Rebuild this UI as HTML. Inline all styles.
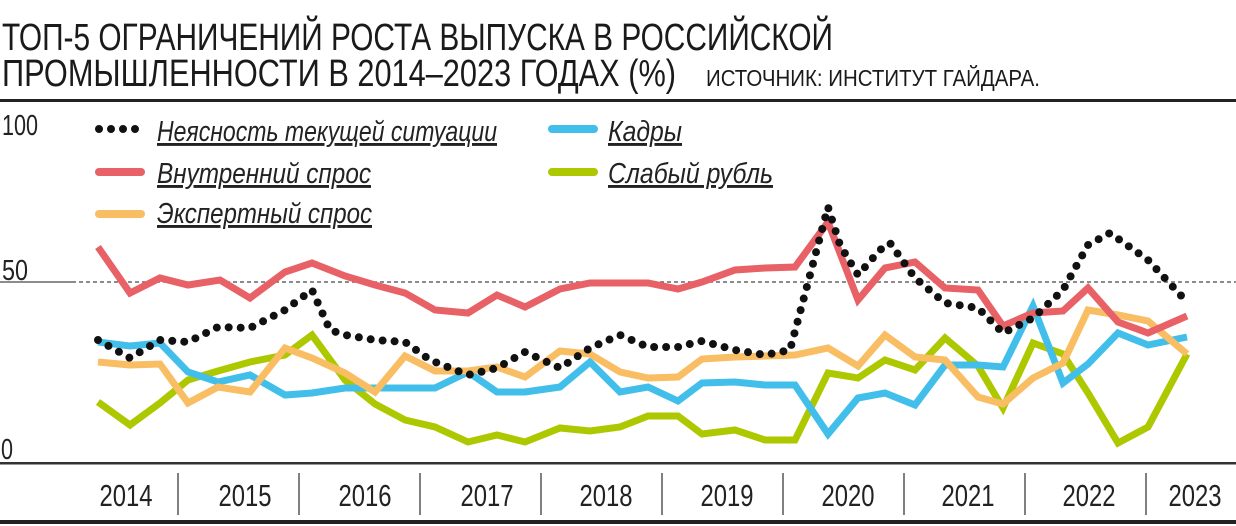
<!DOCTYPE html>
<html><head><meta charset="utf-8"><style>
html,body{margin:0;padding:0;background:#fff;}
svg{display:block;font-family:"Liberation Sans",sans-serif;}
</style></head><body>
<svg width="1236" height="526" viewBox="0 0 1236 526" xmlns="http://www.w3.org/2000/svg">
<text x="2" y="50" font-size="38" fill="#1a1a1a" textLength="831" lengthAdjust="spacingAndGlyphs">ТОП-5 ОГРАНИЧЕНИЙ РОСТА ВЫПУСКА В РОССИЙСКОЙ</text>
<text x="2" y="86" font-size="38" fill="#1a1a1a" textLength="674" lengthAdjust="spacingAndGlyphs">ПРОМЫШЛЕННОСТИ В 2014–2023 ГОДАХ (%)</text>
<text x="706" y="86" font-size="23" fill="#1a1a1a" textLength="334" lengthAdjust="spacingAndGlyphs">ИСТОЧНИК: ИНСТИТУТ ГАЙДАРА.</text>
<rect x="0" y="99" width="1236" height="3" fill="#222"/>
<text x="2" y="135" font-size="29" fill="#222" textLength="36" lengthAdjust="spacingAndGlyphs">100</text>
<text x="2" y="280" font-size="29" fill="#222" textLength="26" lengthAdjust="spacingAndGlyphs">50</text>
<text x="1" y="459" font-size="29" fill="#222" textLength="12" lengthAdjust="spacingAndGlyphs">0</text>
<line x1="0" y1="282" x2="72" y2="282" stroke="#666" stroke-width="1.5"/>
<line x1="72" y1="282" x2="1236" y2="282" stroke="#666" stroke-width="1.5" stroke-dasharray="4,3"/>
<rect x="0" y="462" width="1236" height="2.5" fill="#333"/>
<rect x="0" y="520" width="1236" height="4" fill="#222"/>
<g stroke="#555" stroke-width="1.5">
<line x1="178" y1="473" x2="178" y2="515"/><line x1="299" y1="473" x2="299" y2="515"/><line x1="420" y1="473" x2="420" y2="515"/><line x1="541" y1="473" x2="541" y2="515"/><line x1="662" y1="473" x2="662" y2="515"/><line x1="783" y1="473" x2="783" y2="515"/><line x1="904" y1="473" x2="904" y2="515"/><line x1="1025" y1="473" x2="1025" y2="515"/><line x1="1146" y1="473" x2="1146" y2="515"/>
</g>
<g font-size="31" fill="#222" text-anchor="middle">
<text x="126" y="506" textLength="53" lengthAdjust="spacingAndGlyphs">2014</text>
<text x="245" y="506" textLength="53" lengthAdjust="spacingAndGlyphs">2015</text>
<text x="365" y="506" textLength="53" lengthAdjust="spacingAndGlyphs">2016</text>
<text x="487" y="506" textLength="53" lengthAdjust="spacingAndGlyphs">2017</text>
<text x="606" y="506" textLength="53" lengthAdjust="spacingAndGlyphs">2018</text>
<text x="727" y="506" textLength="53" lengthAdjust="spacingAndGlyphs">2019</text>
<text x="848" y="506" textLength="53" lengthAdjust="spacingAndGlyphs">2020</text>
<text x="968" y="506" textLength="53" lengthAdjust="spacingAndGlyphs">2021</text>
<text x="1089" y="506" textLength="53" lengthAdjust="spacingAndGlyphs">2022</text>
<text x="1195" y="506" textLength="53" lengthAdjust="spacingAndGlyphs">2023</text>
</g>
<g stroke-linecap="round" stroke-width="8" fill="none">
<line x1="99" y1="129" x2="141" y2="129" stroke="#111" stroke-dasharray="0,12"/>
<line x1="99" y1="172" x2="141" y2="172" stroke="#e86166"/>
<line x1="99" y1="214" x2="141" y2="214" stroke="#f9bd63"/>
<line x1="552" y1="129" x2="594" y2="129" stroke="#41bfea"/>
<line x1="552" y1="172" x2="594" y2="172" stroke="#aec800"/>
</g>
<g font-size="29" font-style="italic" fill="#222" text-decoration="underline">
<text x="157" y="141" textLength="340" lengthAdjust="spacingAndGlyphs">Неясность текущей ситуации</text>
<text x="157" y="183" textLength="214" lengthAdjust="spacingAndGlyphs">Внутренний спрос</text>
<text x="157" y="223" textLength="215" lengthAdjust="spacingAndGlyphs">Экспертный спрос</text>
<text x="608" y="141" textLength="74" lengthAdjust="spacingAndGlyphs">Кадры</text>
<text x="608" y="183" textLength="165" lengthAdjust="spacingAndGlyphs">Слабый рубль</text>
</g>
<g fill="none" stroke-width="7" stroke-linejoin="miter" stroke-linecap="butt">
<polyline stroke="#aec800" points="98,402 130,425 160,403 188,380 218,371 250,362 285,355 312,335 345,380 375,404 405,420 435,427 468,442 497,435 525,442 560,428 590,431 620,427 648,416 678,416 702,434 735,430 765,440 795,440 828,373 858,378 885,360 915,370 945,338 978,366 1003,408 1033,343 1063,354 1088,393 1118,443 1148,427 1187,354"/>
<polyline stroke="#41bfea" points="98,342 130,346 160,343 188,372 218,382 250,375 285,395 312,393 345,388 375,388 405,388 435,388 468,372 497,392 525,392 560,387 590,362 620,392 648,387 678,401 702,383 735,382 765,385 795,385 828,434 858,398 885,393 915,405 945,365 978,365 1003,367 1033,306 1063,383 1088,364 1118,333 1148,345 1187,337"/>
<polyline stroke="#f9bd63" points="98,362 130,365 160,364 188,403 218,387 250,392 285,348 312,358 345,373 375,392 405,356 435,371 468,371 497,367 525,377 560,351 590,354 620,372 648,378 678,377 702,359 735,357 765,356 795,355 828,348 858,366 885,335 915,357 945,360 978,397 1003,404 1033,378 1063,363 1088,310 1118,315 1148,321 1187,354"/>
<polyline stroke="#e86166" points="98,247 130,293 160,278 188,285 220,280 250,298 285,272 312,263 345,276 375,285 405,293 435,310 468,313 497,295 525,307 560,289 590,283 620,283 648,283 678,289 702,282 735,270 765,268 795,267 828,222 858,300 885,268 915,262 945,288 978,290 1003,326 1033,313 1063,311 1088,288 1118,322 1148,333 1187,316"/>
<polyline stroke="#111" stroke-width="8" stroke-linecap="round" stroke-dasharray="0,12" points="98,340 130,358 160,340 188,342 218,327 250,328 285,310 312,290 330,330 345,335 375,340 405,342 430,360 468,375 497,368 525,352 560,368 590,348 620,335 648,347 678,347 702,341 735,350 765,355 790,350 810,275 828,207 840,245 858,275 880,250 890,243 915,278 945,303 978,308 1003,333 1033,318 1063,290 1088,245 1110,233 1148,260 1187,302"/>
</g>
</svg>
</body></html>
